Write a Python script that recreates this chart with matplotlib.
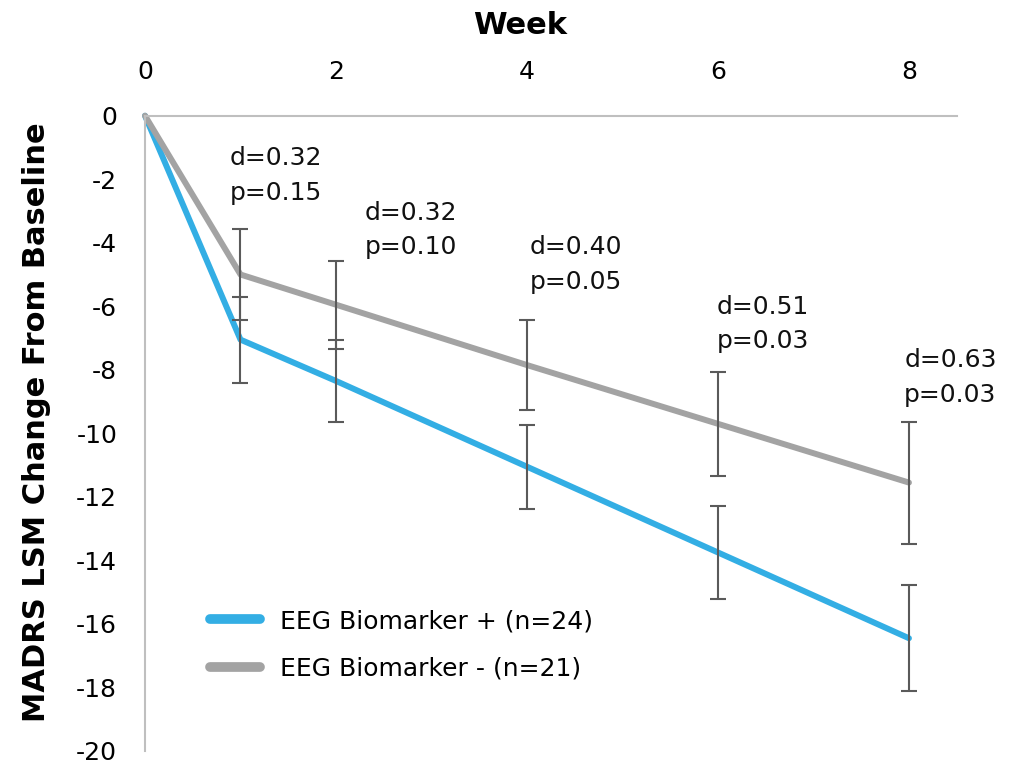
import matplotlib
matplotlib.use("Agg")
import matplotlib.pyplot as plt
from matplotlib.lines import Line2D

# ---- data ----
weeks = [0, 1, 2, 4, 6, 8]
pos_values = [0, -7.05, -8.35, -11.05, -13.75, -16.45]
neg_values = [0, -5.0, -5.95, -7.85, -9.70, -11.55]
pos_err = [1.35, 1.29, 1.32, 1.45, 1.67]
neg_err = [1.44, 1.38, 1.42, 1.64, 1.92]
d_values = ["0.32", "0.32", "0.40", "0.51", "0.63"]
p_values = ["0.15", "0.10", "0.05", "0.03", "0.03"]
series_labels = ["EEG Biomarker + (n=24)", "EEG Biomarker - (n=21)"]
x_ticks = [0, 2, 4, 6, 8]
y_ticks = list(range(-20, 1, 2))

# ---- layout (annotation anchor positions) ----
ann_x = [0.89, 2.30, 4.03, 5.99, 7.95]
ann_y = [-1.88, -3.60, -4.68, -6.56, -8.24]

BLUE = "#33AEE4"
GRAY = "#A3A3A3"
ERR = "#5A5A5A"
AXC = "#BFBFBF"

plt.rcParams['font.family'] = ['DejaVu Sans']
plt.rcParams['axes.unicode_minus'] = False

W, H = 1020, 763
fig = plt.figure(figsize=(W / 100, H / 100), dpi=100)
ax = fig.add_axes([145 / W, 1 - 751 / H, (956.7 - 145) / W, (751 - 115.7) / H])

ax.set_xlim(0, 8.5)
ax.set_ylim(-20, 0)

ax.plot(weeks, pos_values, color=BLUE, lw=4.3, solid_capstyle='round',
        solid_joinstyle='round', zorder=2, clip_on=False)
ax.plot(weeks, neg_values, color=GRAY, lw=4.3, solid_capstyle='round',
        solid_joinstyle='round', zorder=2, clip_on=False)
ax.errorbar(weeks[1:], pos_values[1:], yerr=pos_err, fmt='none', ecolor=ERR,
            elinewidth=1.5, capsize=6, capthick=1.5, zorder=3)
ax.errorbar(weeks[1:], neg_values[1:], yerr=neg_err, fmt='none', ecolor=ERR,
            elinewidth=1.5, capsize=6, capthick=1.5, zorder=3)

for x, y, d, p in zip(ann_x, ann_y, d_values, p_values):
    ax.text(x, y, f"d={d}\np={p}", ha='left', va='center', fontsize=18,
            linespacing=1.55, color='#111111')

ax.xaxis.tick_top()
ax.set_xticks(x_ticks)
ax.set_yticks(y_ticks)
ax.tick_params(axis='x', length=0, pad=23, labelsize=18)
ax.tick_params(axis='y', length=0, pad=20, labelsize=18)
for s in ['right', 'bottom']:
    ax.spines[s].set_visible(False)
for s in ['top', 'left']:
    ax.spines[s].set_color(AXC)
    ax.spines[s].set_linewidth(1.5)

fig.text(520 / W, 1 - 25 / H, "Week", ha='center', va='center',
         fontsize=22, fontweight='bold')
fig.text(37 / W, 1 - 422 / H, "MADRS LSM Change From Baseline", ha='center',
         va='center', rotation=90, fontsize=22, fontweight='bold')

handles = [Line2D([0], [0], color=BLUE, lw=7, solid_capstyle='round'),
           Line2D([0], [0], color=GRAY, lw=7, solid_capstyle='round')]
ax.legend(handles, series_labels, loc='upper left', frameon=False, fontsize=18,
          handlelength=2.0, handletextpad=0.8, labelspacing=0.95, borderpad=0,
          borderaxespad=0, bbox_to_anchor=(210 / W, 1 - 609 / H),
          bbox_transform=fig.transFigure)

fig.savefig("out.png", dpi=100)
